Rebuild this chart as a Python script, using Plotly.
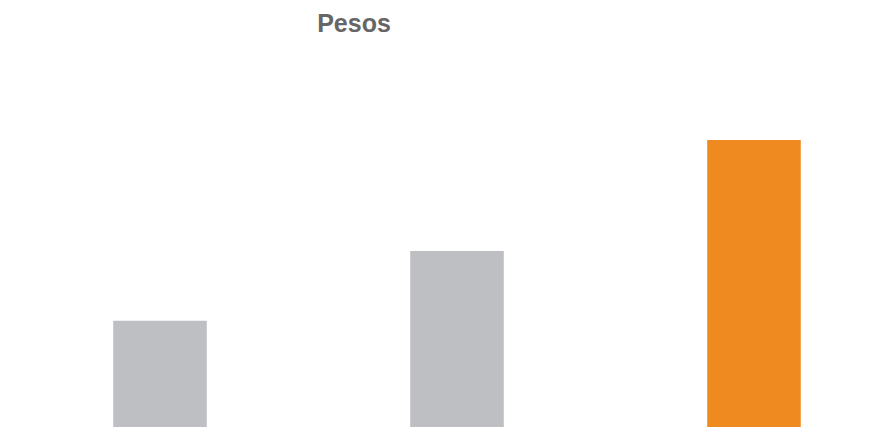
import plotly.graph_objects as go

categories = ["A", "B", "C"]
values = [37.0, 61.3, 100.0]
colors = ["#BEBFC2", "#BEBFC2", "#EE8A1F"]
title_text = "Pesos"

px_per_unit = 2.87
fig = go.Figure(go.Bar(x=[0, 1, 2], y=values, marker=dict(color=colors, line=dict(width=0)),
                       width=0.315, hoverinfo="skip"))

fig.update_layout(
    width=893, height=427,
    margin=dict(l=0, r=0, t=0, b=0),
    paper_bgcolor="white", plot_bgcolor="white",
    showlegend=False,
    title=dict(text="<b>" + title_text + "</b>", x=346 / 893, xanchor="center",
               y=1 - 15 / 427, yanchor="middle",
               font=dict(family="Liberation Sans, Arial", size=25, color="#666666")),
    xaxis=dict(range=[-152 / 297, -152 / 297 + 893 / 297], visible=False,
               tickvals=[0, 1, 2], ticktext=categories),
    yaxis=dict(range=[419 / px_per_unit - 427 / px_per_unit, 419 / px_per_unit], visible=False),
)

fig.write_html("out.html")
